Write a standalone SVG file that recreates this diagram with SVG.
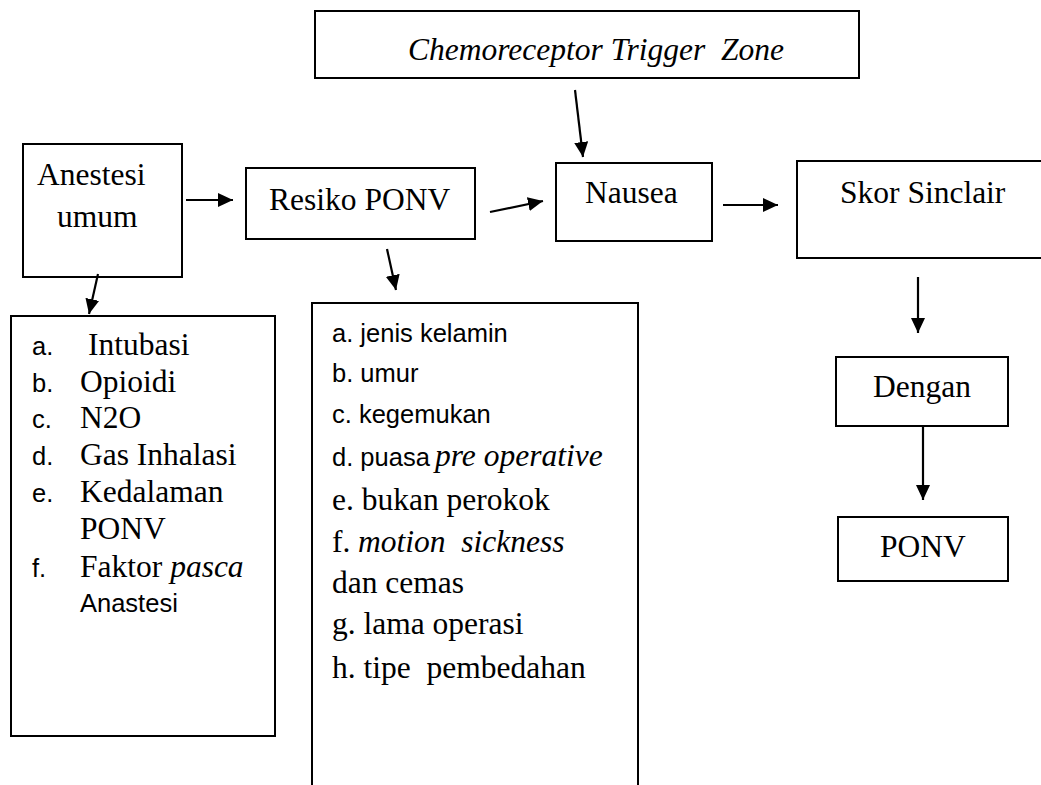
<svg xmlns="http://www.w3.org/2000/svg" width="1041" height="785" viewBox="0 0 1041 785">
<style>
.box{fill:#fff;stroke:#000;stroke-width:2}
.serif{font-family:"Liberation Serif","Times New Roman",serif;font-size:31.5px;fill:#000}
.ital{font-style:italic}
.sans{font-family:"Liberation Sans",Arial,sans-serif;font-size:25.5px;fill:#000}
.conn{stroke:#000;stroke-width:2.2;fill:none}
text{white-space:pre}
</style>
<defs>
<marker id="ah" viewBox="0 0 15 14" refX="15" refY="7" markerWidth="15" markerHeight="14" markerUnits="userSpaceOnUse" orient="auto">
<path d="M0,0 L15,7 L0,14 z" fill="#000"/>
</marker>
</defs>
<rect width="1041" height="785" fill="#fff"/>

<g id="ctz">
<rect class="box" x="315" y="11" width="544" height="67"/>
<text class="serif ital" x="408" y="60" font-size="31">Chemoreceptor Trigger  Zone</text>
</g>

<g id="anestesi">
<rect class="box" x="23" y="144" width="159" height="133"/>
<text class="serif" x="37" y="185">Anestesi</text>
<text class="serif" x="57" y="227">umum</text>
</g>

<g id="resiko">
<rect class="box" x="246" y="168" width="229" height="71"/>
<text class="serif" x="269" y="210">Resiko PONV</text>
</g>

<g id="nausea">
<rect class="box" x="556" y="163" width="156" height="78"/>
<text class="serif" x="585" y="203">Nausea</text>
</g>

<g id="skor">
<rect class="box" x="797" y="161" width="254" height="97"/>
<text class="serif" x="840" y="203">Skor Sinclair</text>
</g>

<g id="dengan">
<rect class="box" x="836" y="357" width="172" height="69"/>
<text class="serif" x="873" y="397">Dengan</text>
</g>

<g id="ponv">
<rect class="box" x="838" y="517" width="170" height="64"/>
<text class="serif" x="880" y="557">PONV</text>
</g>

<g id="faktor-anestesi">
<rect class="box" x="11" y="316" width="264" height="420"/>
<text class="sans" x="32" y="355">a.</text><text class="serif" x="88" y="355">Intubasi</text>
<text class="sans" x="32" y="392">b.</text><text class="serif" x="80" y="392">Opioidi</text>
<text class="sans" x="32" y="428">c.</text><text class="serif" x="80" y="428">N2O</text>
<text class="sans" x="32" y="465">d.</text><text class="serif" x="80" y="465">Gas Inhalasi</text>
<text class="sans" x="32" y="502">e.</text><text class="serif" x="80" y="502">Kedalaman</text>
<text class="serif" x="80" y="539">PONV</text>
<text class="sans" x="32" y="577">f.</text><text class="serif" x="80" y="577">Faktor <tspan class="ital">pasca</tspan></text>
<text class="sans" x="80" y="612">Anastesi</text>
</g>

<g id="faktor-resiko">
<path class="box" d="M312,790 V303 H638 V790" fill="#fff"/>
<text class="sans" x="332" y="342">a. jenis kelamin</text>
<text class="sans" x="332" y="382">b. umur</text>
<text class="sans" x="332" y="423">c. kegemukan</text>
<text x="332" y="466"><tspan class="sans">d. puasa</tspan><tspan class="serif ital" x="435">pre operative</tspan></text>
<text class="serif" x="332" y="510">e. bukan perokok</text>
<text class="serif" x="332" y="552">f. <tspan class="ital" x="358">motion  sickness</tspan></text>
<text class="serif" x="332" y="593">dan cemas</text>
<text class="serif" x="332" y="634">g. lama operasi</text>
<text class="serif" x="332" y="678">h. tipe  pembedahan</text>
</g>

<g id="connectors">
<line class="conn" x1="186" y1="200" x2="233" y2="200" marker-end="url(#ah)"/>
<line class="conn" x1="98" y1="274" x2="89" y2="314" marker-end="url(#ah)"/>
<line class="conn" x1="490" y1="212" x2="543" y2="201" marker-end="url(#ah)"/>
<line class="conn" x1="387" y1="249" x2="396" y2="290" marker-end="url(#ah)"/>
<line class="conn" x1="575" y1="90" x2="583" y2="157" marker-end="url(#ah)"/>
<line class="conn" x1="723" y1="205" x2="778" y2="205" marker-end="url(#ah)"/>
<line class="conn" x1="918" y1="277" x2="918" y2="333" marker-end="url(#ah)"/>
<line class="conn" x1="923" y1="426" x2="923" y2="500" marker-end="url(#ah)"/>
</g>
</svg>
